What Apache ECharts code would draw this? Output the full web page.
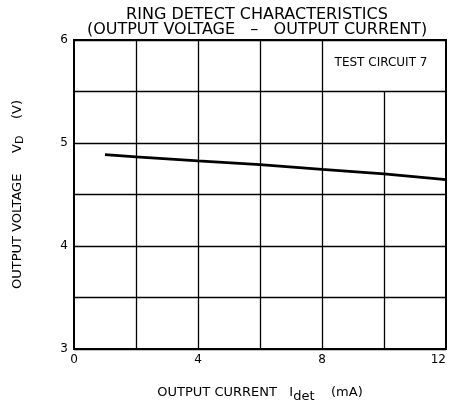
<!DOCTYPE html>
<html><head><meta charset="utf-8">
<script src="https://cdn.jsdelivr.net/npm/echarts@6/dist/echarts.min.js"></script>
<style>html,body{margin:0;padding:0;background:#fff}#c{width:456px;height:408px}</style>
</head><body><div id="c"></div>
<script>
// Data
var currentMA = [1, 2, 4, 6, 8, 10, 12];
var outputV   = [4.888, 4.866, 4.827, 4.79, 4.744, 4.70, 4.645];
var xTickLabels = [0, 4, 8, 12];
var yTickLabels = [3, 4, 5, 6];
var xGridLines = [2, 4, 6, 8, 10];
var titleLines = ['RING DETECT CHARACTERISTICS', '(OUTPUT VOLTAGE   \u2013   OUTPUT CURRENT)'];
var boxLabel = 'TEST CIRCUIT 7';
var boxRange = { x: [8, 12], y: [5.5, 6] };

var F = '"DejaVu Sans", "Noto Sans", sans-serif';
var chart = echarts.init(document.getElementById('c'));

var vLines = xGridLines.map(function (x) {
  var top = (x > boxRange.x[0] && x < boxRange.x[1]) ? boxRange.y[0] : 6;
  return [{ coord: [x, 3] }, { coord: [x, top] }];
});

chart.setOption({
  animation: false,
  backgroundColor: '#fff',
  title: {
    text: titleLines.join('\n'),
    left: 252, top: 2, textAlign: 'center',
    textStyle: { fontFamily: F, fontSize: 16, fontWeight: 'normal', color: '#000', lineHeight: 15 }
  },
  grid: { left: 74, right: 10, top: 40, bottom: 54, show: true, borderColor: '#000', borderWidth: 2, backgroundColor: 'transparent' },
  xAxis: {
    type: 'value', min: 0, max: 12, interval: 2,
    axisLine: { show: true, lineStyle: { color: '#000', width: 2 } },
    axisTick: { show: false },
    splitLine: { show: false },
    axisLabel: {
      margin: 5, color: '#000', fontFamily: F, fontSize: 12, alignMaxLabel: 'right',
      formatter: function (v) { return xTickLabels.indexOf(v) >= 0 ? String(v) : ''; }
    },
    name: '{a|OUTPUT CURRENT}   {a|I}{sub|det}    {a|(mA)}',
    nameLocation: 'middle', nameGap: 34,
    nameTextStyle: {
      color: '#000', fontFamily: F, fontSize: 13,
      rich: {
        a: { fontFamily: F, fontSize: 13, color: '#000' },
        sub: { fontFamily: F, fontSize: 13, color: '#000', padding: [7, 0, 0, 0] }
      }
    }
  },
  yAxis: {
    type: 'value', min: 3, max: 6, interval: 0.5,
    axisLine: { show: true, lineStyle: { color: '#000', width: 2 } },
    axisTick: { show: false },
    splitLine: { show: true, lineStyle: { color: '#000', width: 1.3 } },
    axisLabel: {
      margin: 6, color: '#000', fontFamily: F, fontSize: 12,
      formatter: function (v) { return yTickLabels.indexOf(v) >= 0 ? String(v) : ''; }
    },
    name: '{a|OUTPUT VOLTAGE}     {a|V}{sub|D}    {a|(V)}',
    nameLocation: 'middle', nameGap: 48, nameRotate: 90,
    nameTextStyle: {
      color: '#000', fontFamily: F, fontSize: 13,
      rich: {
        a: { fontFamily: F, fontSize: 13, color: '#000' },
        sub: { fontFamily: F, fontSize: 11, color: '#000', padding: [6, 0, 0, 0] }
      }
    }
  },
  series: [{
    type: 'line',
    data: currentMA.map(function (x, i) { return [x, outputV[i]]; }),
    showSymbol: false, smooth: false,
    lineStyle: { color: '#000', width: 2.8 },
    z: 5,
    markLine: {
      silent: true, symbol: ['none', 'none'], animation: false,
      label: { show: false },
      lineStyle: { color: '#000', width: 1.3, type: 'solid' },
      data: vLines
    },
    markArea: {
      silent: true,
      itemStyle: { color: 'rgba(0,0,0,0)' },
      label: { show: true, position: 'inside', color: '#000', fontFamily: F, fontSize: 12, offset: [-3, -3] },
      data: [[{ name: boxLabel, coord: [boxRange.x[0], boxRange.y[0]] }, { coord: [boxRange.x[1], boxRange.y[1]] }]]
    }
  }]
});
</script></body></html>
